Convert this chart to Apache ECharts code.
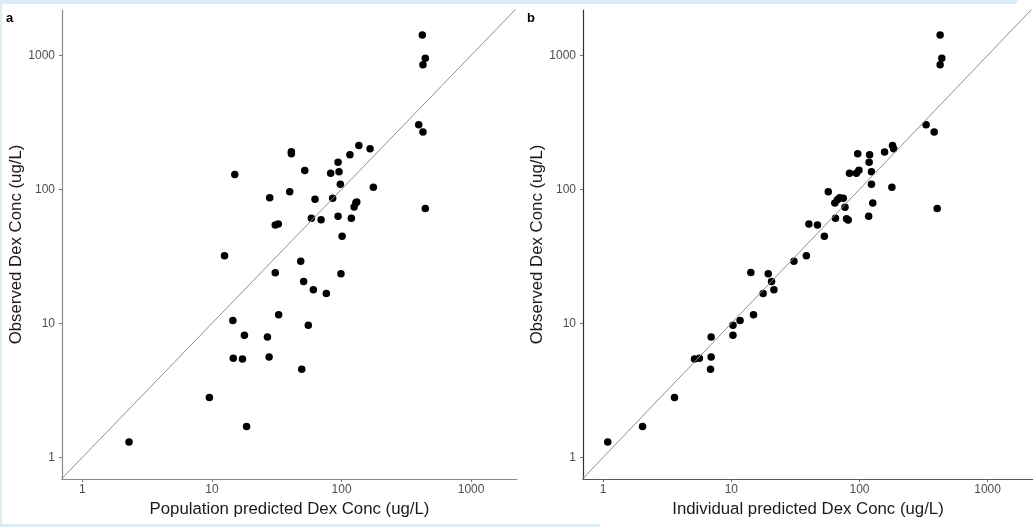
<!DOCTYPE html>
<html><head><meta charset="utf-8">
<script src="https://cdn.jsdelivr.net/npm/echarts@6/dist/echarts.min.js"></script>
<style>html,body{margin:0;padding:0;background:#fff}#c{width:1033px;height:527px}</style>
</head><body><div id="c"></div>
<script>
// Panel a: population predicted vs observed
const popPred = [420, 443, 425, 394, 425, 443, 136, 166, 116, 94, 95.6, 82.4, 97.9, 176,
  41, 41, 52, 15.0, 39.8, 27.9, 62.4, 85.4, 129, 125, 131, 58.5, 69.5, 94, 119, 30.8, 32.5,
  101, 12.5, 48.4, 30.8, 99, 51, 60.6, 76.3, 32.7, 14.5, 55.4, 17.8, 26.8, 14.6, 17.2, 27.6,
  49.3, 9.55, 18.5, 2.29];
const popObs = [1419, 950, 852, 304, 268, 72.1, 212, 201, 181, 159, 135.5, 131.7, 109, 103.5,
  191, 184.6, 138, 129, 96.1, 86.7, 84.2, 85.7, 79.5, 73.8, 80.5, 60.8, 59.4, 62.9, 60.8, 54.2, 55.1,
  44.6, 32.0, 29.0, 23.9, 23.4, 20.5, 17.8, 16.7, 11.6, 10.5, 9.66, 8.14, 7.91, 5.48, 5.42, 5.61,
  4.54, 2.80, 1.70, 1.30];
// Panel b: individual predicted vs observed
const indPred = [426, 439, 426, 331, 383, 404, 181, 185, 157, 96.9, 120, 119, 124, 99, 94.6,
  83.6, 124, 179, 127, 57.1, 64.2, 67.3, 70.1, 74.8, 77.1, 65, 79.3, 81.7, 118, 40.3, 47.0,
  53.2, 38.5, 30.8, 14.2, 19.4, 20.6, 21.5, 17.7, 14.9, 11.7, 10.3, 10.3, 6.96, 5.16, 5.63,
  6.96, 6.88, 3.60, 2.03, 1.086];
const indObs = [1419, 950, 852, 304, 268, 72.1, 212, 201, 190, 184.5, 181, 159, 135.5, 138.6, 131.7,
  131.7, 109, 103.5, 79.1, 96.1, 79.1, 83.7, 86.7, 85.7, 73.4, 60.8, 60.4, 59.0, 62.9, 55.1, 54.2,
  44.6, 32.0, 29.0, 24.0, 23.4, 20.5, 17.8, 16.7, 11.6, 10.5, 9.66, 8.14, 7.91, 5.42, 5.48,
  5.61, 4.54, 2.80, 1.70, 1.30];
const tickValues = [1, 10, 100, 1000];
const panelLabels = ['a', 'b'];
const xTitles = ['Population predicted Dex Conc (ug/L)', 'Individual predicted Dex Conc (ug/L)'];
const yTitle = 'Observed Dex Conc (ug/L)';
const identityLine = [[0.5, 0.5], [3000, 3000]];

const xRange = [0.696, 2260];
const yRange = [0.689, 2180];
const FONT = '"Liberation Sans", Arial, sans-serif';

function pairs(xs, ys) { return xs.map((x, i) => [x, ys[i]]); }
function fmt(v) {
  const r = Math.round(v);
  return tickValues.indexOf(r) >= 0 && Math.abs(v - r) < 1e-6 ? String(r) : '';
}
function xAxis(i, axisColor) {
  return {
    type: 'log', logBase: 10, gridIndex: i, min: xRange[0], max: xRange[1],
    name: xTitles[i], nameLocation: 'middle', nameGap: 20,
    nameTextStyle: { fontFamily: FONT, fontSize: 16.8, color: '#1a1a1a' },
    axisLine: { show: true, lineStyle: { color: axisColor, width: 1.2 } },
    axisTick: { show: true, length: 3, lineStyle: { color: '#777' }, customValues: tickValues },
    axisLabel: { fontFamily: FONT, fontSize: 12, color: '#4d4d4d', margin: 5, formatter: fmt, customValues: tickValues },
    splitLine: { show: false }
  };
}
function yAxis(i, axisColor) {
  return {
    type: 'log', logBase: 10, gridIndex: i, min: yRange[0], max: yRange[1],
    name: yTitle, nameLocation: 'middle', nameGap: 36, nameRotate: 90,
    nameTextStyle: { fontFamily: FONT, fontSize: 16.8, color: '#1a1a1a' },
    axisLine: { show: true, lineStyle: { color: axisColor, width: 1.2 } },
    axisTick: { show: true, length: 3, lineStyle: { color: '#777' }, customValues: tickValues },
    axisLabel: { fontFamily: FONT, fontSize: 12, color: '#4d4d4d', margin: 7, formatter: fmt, customValues: tickValues },
    splitLine: { show: false }
  };
}
const chart = echarts.init(document.getElementById('c'), null, { renderer: 'canvas' });
const dotStyle = { color: '#000', opacity: 1 };
chart.setOption({
  backgroundColor: '#fff',
  animation: false,
  grid: [
    { left: 62, width: 455, top: 10, height: 469 },
    { left: 583, width: 457, top: 10, height: 469 }
  ],
  xAxis: [xAxis(0, '#8a8a8a'), xAxis(1, '#555')],
  yAxis: [yAxis(0, '#8a8a8a'), yAxis(1, '#333')],
  graphic: [
    { type: 'rect', shape: { x: 0, y: 0, width: 1018, height: 4, r: [0, 0, 4, 0] }, style: { fill: '#dcedf7' }, silent: true },
    { type: 'rect', shape: { x: 0, y: 0, width: 2, height: 527 }, style: { fill: '#dcedf7' }, silent: true },
    { type: 'rect', shape: { x: 0, y: 524, width: 600, height: 3 }, style: { fill: '#dcedf7' }, silent: true },
    { type: 'text', left: 6, top: 12, style: { text: panelLabels[0], font: 'bold 13px ' + FONT, fill: '#000' } },
    { type: 'text', left: 527, top: 12, style: { text: panelLabels[1], font: 'bold 13px ' + FONT, fill: '#000' } }
  ],
  series: [
    { type: 'line', xAxisIndex: 0, yAxisIndex: 0, data: identityLine, showSymbol: false, clip: true,
      lineStyle: { color: '#8f8f8f', width: 1 }, silent: true },
    { type: 'line', xAxisIndex: 1, yAxisIndex: 1, data: identityLine, showSymbol: false, clip: true,
      lineStyle: { color: '#8f8f8f', width: 1 }, silent: true },
    { type: 'scatter', xAxisIndex: 0, yAxisIndex: 0, data: pairs(popPred, popObs), symbolSize: 7.5, itemStyle: dotStyle },
    { type: 'scatter', xAxisIndex: 1, yAxisIndex: 1, data: pairs(indPred, indObs), symbolSize: 7.5, itemStyle: dotStyle }
  ]
});
</script>
</body></html>
